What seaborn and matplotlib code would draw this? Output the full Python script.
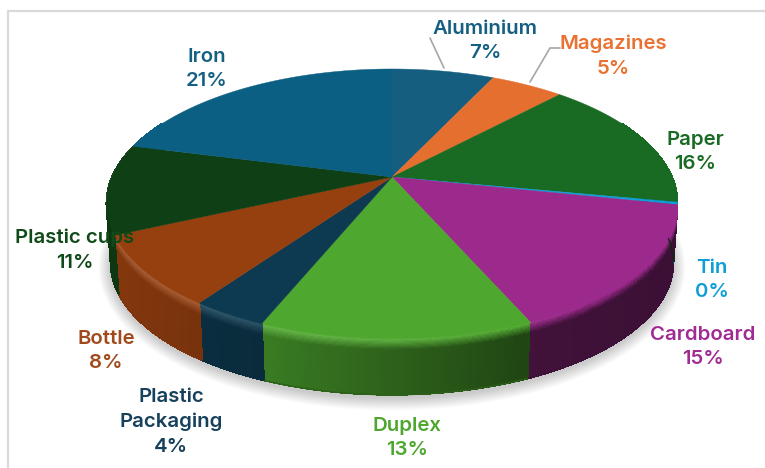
import numpy as np
import matplotlib
matplotlib.use("Agg")
import matplotlib.pyplot as plt
from matplotlib.collections import PolyCollection
from matplotlib.colors import to_rgb
import seaborn as sns

# data (clockwise from 12 o'clock)
categories = ["Aluminium", "Magazines", "Paper", "Tin", "Cardboard", "Duplex",
              "Plastic\nPackaging", "Bottle", "Plastic cups", "Iron"]
shares = [7.0, 5.0, 16.0, 0.3, 15.1, 12.8, 3.6, 8.4, 10.8, 21.0]

sns.set_theme(style="white")
plt.rcParams['font.family'] = ['Inter', 'DejaVu Sans']

top_colors = sns.color_palette(["#155e80", "#e46f2f", "#196b24", "#0f9ed5", "#9c2a8c",
                                "#4ea72e", "#0d3a50", "#963f0f", "#0f3f14", "#0a5f82"])
text_colors = sns.color_palette(["#156082", "#e97132", "#196b24", "#0f9ed5", "#a02b93",
                                 "#4ea72e", "#17405c", "#a04a1c", "#104a18", "#156082"])

# label centres in pixels
label_pos = {"Aluminium": (485, 41), "Magazines": (613, 56), "Paper": (695, 152),
             "Tin": (712, 280), "Cardboard": (703, 347), "Duplex": (407, 438),
             "Plastic\nPackaging": (171, 422), "Bottle": (106, 351),
             "Plastic cups": (75, 250), "Iron": (207, 69)}

# perspective of the pie plane
CX, CY = 392, 177
A, B, K = 280, 129.3, 0.197
DEPTH = 60


def project(theta, t=0.0):
    # theta clockwise from top, radius 1 for the rim; t goes down the side wall
    u, v = np.sin(theta), np.cos(theta)
    x = A * u / (1 + K * v)
    y = B * v / (1 + K * v)
    x = x * (1 - 0.015 * t)
    y = y * (1 - 0.02 * t) - DEPTH * t
    return CX + x, CY - y


fig = plt.figure(figsize=(7.65, 4.68), dpi=100)
ax = fig.add_axes([0, 0, 1, 1])
ax.set_xlim(0, 765)
ax.set_ylim(468, 0)
ax.axis("off")

# frame, only top and left are visible
ax.plot([8, 8, 765], [468, 10.5, 10.5], color="#d9d9d9", lw=1.6, zorder=0)

# soft shadow under the pie
circle = np.linspace(0, 2 * np.pi, 361)
bx, by = project(circle, 1.0)
for d in np.arange(13, 0, -1):
    sx = CX + (bx - CX) * (1 + d / 300)
    sy = by + 3 + (by - by.mean()) * (d / 150)
    ax.fill(sx, sy, color="black", alpha=0.014, lw=0, zorder=1)

edges = np.cumsum([0] + shares) / np.sum(shares) * 2 * np.pi

# side wall, cut into small cells to get the bevel and the shading
levels = np.linspace(0, 0.24, 13)
levels = np.r_[levels, 0.6, 1.0]
polys, cols = [], []
for i, c in enumerate(top_colors):
    n = max(2, int((edges[i + 1] - edges[i]) / np.radians(0.5)))
    th = np.linspace(edges[i], edges[i + 1], n)
    base = np.array(to_rgb(c))
    for a0, a1 in zip(th[:-1], th[1:]):
        if np.cos((a0 + a1) / 2) > 0.45:
            continue
        for t0, t1 in zip(levels[:-1], levels[1:]):
            x0, y0 = project(a0, t0)
            x1, y1 = project(a1, t0)
            x2, y2 = project(a1, t1)
            x3, y3 = project(a0, t1)
            polys.append([(x0, y0), (x1, y1), (x2, y2), (x3, y3)])
            xm = (x0 + x1) / 2 - CX
            shade = np.interp(xm, [-280, -130, 130, 285], [0.88, 0.74, 0.42, 0.38])
            glow = np.interp(xm, [-280, 0, 200], [0.16, 0.08, 0.0])
            tm = (t0 + t1) / 2
            side = base * shade
            rim = base + (1 - base) * glow
            if tm < 0.05:
                col = base + (rim - base) * tm / 0.05
            elif tm < 0.22:
                col = rim + (side - rim) * (tm - 0.05) / 0.17
            else:
                col = side
            cols.append(np.clip(col, 0, 1))
ax.add_collection(PolyCollection(polys, facecolors=cols, edgecolors=cols, linewidths=0.6,
                                 antialiaseds=False, zorder=2))

# smooth the lower outline of the wall
for i, c in enumerate(top_colors):
    th = np.linspace(edges[i], edges[i + 1], 60)
    x, y = project(th, 1.0)
    xm = x.mean() - CX
    shade = np.interp(xm, [-280, -130, 130, 285], [0.88, 0.74, 0.42, 0.38])
    ax.plot(x, y, color=np.array(to_rgb(c)) * shade, lw=1.0, zorder=2.5)

# top face
for i, c in enumerate(top_colors):
    th = np.linspace(edges[i], edges[i + 1], 80)
    x, y = project(th)
    ax.fill(np.r_[CX, x], np.r_[CY, y], color=c, lw=0.3, zorder=3)

# leader lines
ax.plot([430, 444], [38, 68], color="#a6a6a6", lw=1.2, zorder=4)
ax.plot([560, 550, 530], [48, 48, 82], color="#a6a6a6", lw=1.2, zorder=4)

# labels
for name, val, col in zip(categories, shares, text_colors):
    lx, ly = label_pos[name]
    ax.text(lx, ly, f"{name}\n{val:.0f}%", color=col, ha="center", va="center",
            fontsize=14.7, fontweight="semibold", linespacing=1.47, zorder=5)

fig.savefig("out.png", dpi=100, facecolor="white")
